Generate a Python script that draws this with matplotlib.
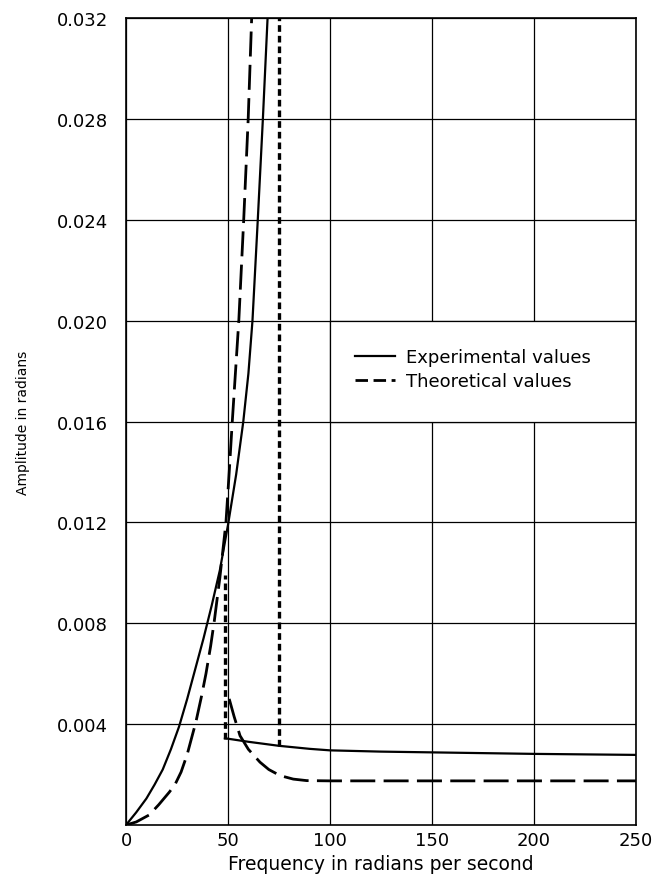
import numpy as np
import matplotlib
matplotlib.use('Agg')
import matplotlib.pyplot as plt
from matplotlib.patches import Rectangle
from matplotlib.lines import Line2D

# experimental values, rising branch (rad/s, radians)
exp_up_x = [0, 5, 10, 14, 18, 22, 26, 30, 34, 38, 42, 46, 50, 54, 57.5, 60, 62.0, 64.6, 67.1, 69.4]
exp_up_y = [0, 0.0005, 0.00105, 0.0016, 0.0022, 0.0030, 0.0039, 0.0050, 0.0062, 0.0074,
            0.0087, 0.0101, 0.0119, 0.0139, 0.0160, 0.0179, 0.0200, 0.0240, 0.0280, 0.0320]
# experimental values, after the jump
exp_low_x = [48.5, 60, 75, 90, 100, 125, 150, 200, 250]
exp_low_y = [0.00344, 0.00330, 0.00314, 0.00302, 0.00296, 0.00291, 0.00288, 0.00282, 0.00278]

# theoretical values
th_up_x = [0, 5, 11.4, 16, 21.2, 24, 27, 30, 34.3, 37, 39.2, 41.5, 43.3, 46, 49, 50.6,
           52.1, 53.7, 55.3, 57.7, 59.9, 61.6]
th_up_y = [0, 0.00012, 0.0004, 0.0008, 0.0013, 0.0016, 0.0021, 0.0028, 0.0041, 0.0051, 0.0060,
           0.0071, 0.0081, 0.0098, 0.0120, 0.0140, 0.0160, 0.0180, 0.0200, 0.0240, 0.0280, 0.0320]
th_low_x = [50.6, 53, 55.9, 60, 65.7, 70, 75.5, 82, 88.6, 100, 250]
th_low_y = [0.0050, 0.0043, 0.00354, 0.0030, 0.00249, 0.0022, 0.00196, 0.00182, 0.00176, 0.00175, 0.00175]

# jump lines (dotted)
jump1_x = [48.5, 48.5]
jump1_y = [0.0034, 0.0099]
jump2_x = [74.8, 74.8]
jump2_y = [0.00313, 0.032]

xticks = [0, 50, 100, 150, 200, 250]
yticks = [0.004, 0.008, 0.012, 0.016, 0.020, 0.024, 0.028, 0.032]
ylabels = ['0.004', '0.008', '0.012', '0.016', '0.020', '0.024', '0.028', '0.032']

plt.rcParams['font.family'] = 'DejaVu Sans'

fig = plt.figure(figsize=(6.58, 8.79), dpi=100)
ax = fig.add_axes([0.1915, 0.0603, 0.775, 0.918])

ax.plot(exp_up_x, exp_up_y, color='black', lw=1.6, zorder=3)
ax.plot(exp_low_x, exp_low_y, color='black', lw=1.6, zorder=3)
ax.plot(th_up_x, th_up_y, color='black', lw=2, ls=(0, (9, 3)), zorder=3)
ax.plot(th_low_x, th_low_y, color='black', lw=2, ls=(0, (9, 3)), zorder=3)
ax.plot(jump1_x, jump1_y, color='black', lw=2.4, ls=(0, (2, 1.2)), zorder=3)
ax.plot(jump2_x, jump2_y, color='black', lw=2.4, ls=(0, (2, 1.2)), zorder=3)

ax.set_xlim(0, 250)
ax.set_ylim(0, 0.032)
ax.set_xticks(xticks)
ax.set_xticklabels([str(t) for t in xticks])
ax.set_yticks(yticks)
ax.set_yticklabels(ylabels)
ax.tick_params(axis='both', length=0, labelsize=13)
ax.tick_params(axis='x', pad=4)
ax.tick_params(axis='y', pad=13)
ax.set_axisbelow(True)
ax.grid(True, color='black', lw=0.9)
for s in ax.spines.values():
    s.set_linewidth(1.2)

# box for the legend
ax.add_patch(Rectangle((100, 0.016), 150, 0.004, facecolor='white', edgecolor='black', lw=0.9, zorder=1.5))
handles = [Line2D([], [], color='black', lw=1.6),
           Line2D([], [], color='black', lw=2, ls=(0, (4.5, 2)))]
ax.legend(handles, ['Experimental values', 'Theoretical values'], loc='upper left',
          bbox_to_anchor=(0.449, 0.591), frameon=False, fontsize=13, borderpad=0,
          borderaxespad=0, handlelength=2.2, handletextpad=0.6, labelspacing=0.35)

ax.set_xlabel('Frequency in radians per second', fontsize=13.5, labelpad=4)
ax.set_ylabel('Amplitude in radians', fontsize=10, labelpad=19)

fig.savefig('out.png', dpi=100)
